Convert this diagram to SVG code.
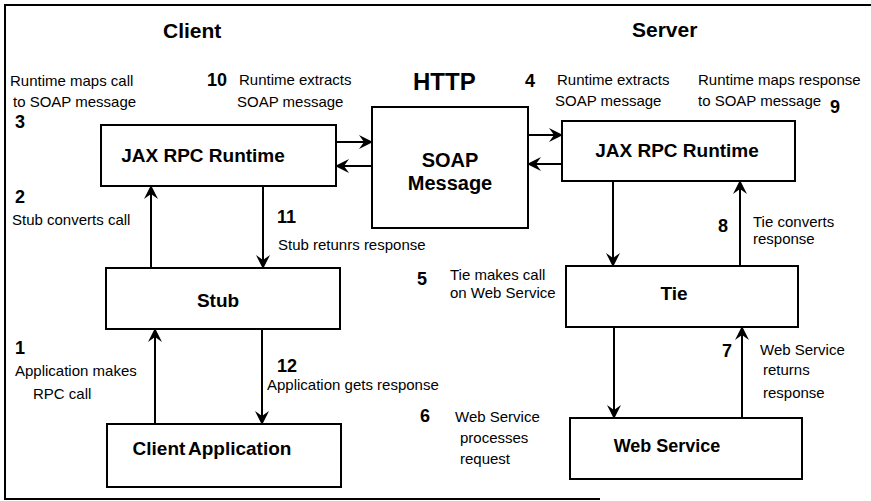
<svg xmlns="http://www.w3.org/2000/svg" width="871" height="501" viewBox="0 0 871 501">
<style>
text{font-family:"Liberation Sans",Arial,sans-serif;fill:#000}
.t{font-size:15px}
.n{font-size:18px;font-weight:bold}
.h{font-size:21px;font-weight:bold}
.b{font-size:19px;font-weight:bold;text-anchor:middle}
.box{fill:#fff;stroke:#000;stroke-width:2}
.c{stroke:#000;stroke-width:2;fill:none;marker-end:url(#ah)}
</style>
<defs>
<marker id="ah" markerUnits="userSpaceOnUse" viewBox="0 0 14 14" markerWidth="14" markerHeight="14" refX="13" refY="7" orient="auto">
<path d="M0,0 L14,7 L0,14 L5,7 z" fill="#000"/>
</marker>
</defs>
<rect width="871" height="501" fill="#fff"/>
<path d="M871,5 H5 V499 H600" fill="none" stroke="#000" stroke-width="2"/>

<text class="h" x="163" y="38">Client</text>
<text class="h" x="632" y="37">Server</text>
<text x="413" y="90" style="font-size:24px;font-weight:bold">HTTP</text>

<g id="client-runtime">
<rect class="box" x="101" y="125" width="235" height="61"/>
<text class="b" x="203" y="162">JAX RPC Runtime</text>
</g>
<g id="soap-message">
<rect class="box" x="372" y="107" width="156" height="121"/>
<text class="b" x="450" y="167" style="font-size:20px">SOAP</text>
<text class="b" x="450" y="190" style="font-size:20px">Message</text>
</g>
<g id="server-runtime">
<rect class="box" x="562" y="121" width="233" height="60"/>
<text class="b" x="677" y="157">JAX RPC Runtime</text>
</g>
<g id="stub">
<rect class="box" x="106" y="268" width="234" height="61"/>
<text class="b" x="218" y="307">Stub</text>
</g>
<g id="tie">
<rect class="box" x="566" y="266" width="232" height="61"/>
<text class="b" x="674" y="300">Tie</text>
</g>
<g id="client-application">
<rect class="box" x="107" y="424" width="234" height="63"/>
<text class="b" x="212" y="455" style="word-spacing:-2px">Client Application</text>
</g>
<g id="web-service">
<rect class="box" x="570" y="418" width="232" height="61"/>
<text class="b" x="667" y="452" style="font-size:18px">Web Service</text>
</g>

<g id="connectors">
<line class="c" x1="151" y1="268" x2="151" y2="186"/>
<line class="c" x1="263" y1="186" x2="263" y2="268"/>
<line class="c" x1="155" y1="424" x2="155" y2="329"/>
<line class="c" x1="262" y1="329" x2="262" y2="424"/>
<line class="c" x1="336" y1="142" x2="372" y2="142"/>
<line class="c" x1="372" y1="166" x2="336" y2="166"/>
<line class="c" x1="528" y1="135" x2="562" y2="135"/>
<line class="c" x1="562" y1="164" x2="528" y2="164"/>
<line class="c" x1="613" y1="181" x2="613" y2="266"/>
<line class="c" x1="740" y1="266" x2="740" y2="181"/>
<line class="c" x1="614" y1="327" x2="614" y2="418"/>
<line class="c" x1="742" y1="418" x2="742" y2="327"/>
</g>

<g id="labels">
<text class="t" x="10" y="86">Runtime maps call</text>
<text class="t" x="13" y="107">to SOAP message</text>
<text class="n" x="15" y="128">3</text>

<text class="n" x="207" y="86">10</text>
<text class="t" x="239" y="85">Runtime extracts</text>
<text class="t" x="237" y="107">SOAP message</text>

<text class="n" x="525" y="87">4</text>
<text class="t" x="557" y="85">Runtime extracts</text>
<text class="t" x="555" y="106">SOAP message</text>

<text class="t" x="698" y="85">Runtime maps response</text>
<text class="t" x="698" y="106">to SOAP message</text>
<text class="n" x="830" y="113">9</text>

<text class="n" x="15" y="203">2</text>
<text class="t" x="12" y="225">Stub converts call</text>

<text class="n" x="277" y="223">11</text>
<text class="t" x="278" y="250">Stub retunrs response</text>

<text class="n" x="417" y="285">5</text>
<text class="t" x="450" y="280">Tie makes call</text>
<text class="t" x="450" y="298">on Web Service</text>

<text class="n" x="718" y="232">8</text>
<text class="t" x="753" y="227">Tie converts</text>
<text class="t" x="753" y="244">response</text>

<text class="n" x="15" y="354">1</text>
<text class="t" x="15" y="376">Application makes</text>
<text class="t" x="33" y="399">RPC call</text>

<text class="n" x="277" y="372">12</text>
<text class="t" x="267" y="390">Application gets response</text>

<text class="n" x="420" y="422">6</text>
<text class="t" x="455" y="422">Web Service</text>
<text class="t" x="460" y="443">processes</text>
<text class="t" x="460" y="464">request</text>

<text class="n" x="722" y="357">7</text>
<text class="t" x="760" y="355">Web Service</text>
<text class="t" x="763" y="375">returns</text>
<text class="t" x="763" y="398">response</text>
</g>
</svg>
